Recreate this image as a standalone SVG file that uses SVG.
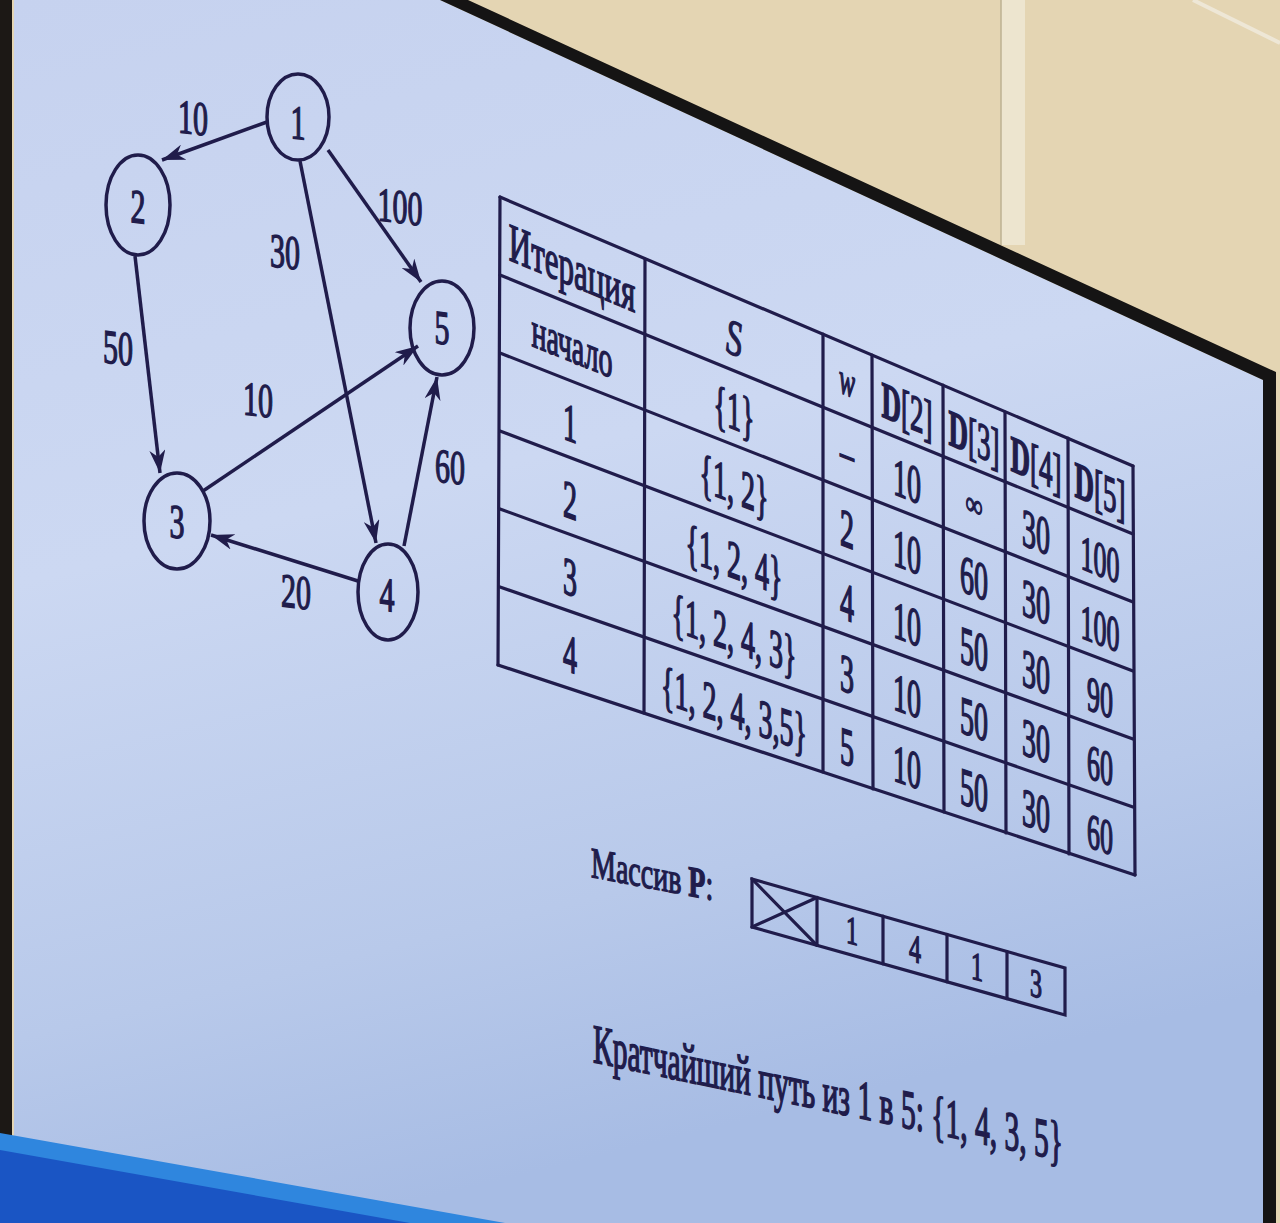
<svg xmlns="http://www.w3.org/2000/svg" width="1280" height="1223" viewBox="0 0 1280 1223">
<defs>
<linearGradient id="scr" x1="0" y1="0" x2="0.25" y2="1">
<stop offset="0" stop-color="#c6d2ef"/>
<stop offset="0.45" stop-color="#ccd8f2"/>
<stop offset="0.8" stop-color="#b8c9ea"/>
<stop offset="1" stop-color="#a7bce4"/>
</linearGradient>
<marker id="arr" markerUnits="userSpaceOnUse" markerWidth="26" markerHeight="16" refX="23" refY="8" orient="auto">
<path d="M0,0 L23,8 L0,16 L7,8 z" fill="#201c4b"/>
</marker>
<style>
.t{font-family:"Liberation Serif","Times New Roman",serif;fill:#201c4b;stroke:#201c4b;stroke-width:0.9;text-anchor:middle}
.g{font-size:30px}
.tb{font-size:28px}
.ln{stroke:#201c4b;stroke-width:3.2;fill:none;stroke-linecap:round}
.nd{fill:none;stroke:#201c4b;stroke-width:3.5}
.ed{stroke:#201c4b;stroke-width:3.5;fill:none;marker-end:url(#arr)}
</style>
</defs>

<!-- scene: wall, screen, bezel -->
<rect x="0" y="0" width="1280" height="1223" fill="#e4d5b3"/>
<rect x="1001" y="0" width="24" height="245" fill="#ede5cf"/>
<line x1="1001" y1="0" x2="1001" y2="245" stroke="#bdb092" stroke-width="1.5"/>
<line x1="1193" y1="0" x2="1280" y2="43" stroke="#eee7d6" stroke-width="4"/>
<polygon points="14,0 440,0 1263,380 1263,1223 14,1223" fill="url(#scr)"/>
<polygon points="440,0 468,0 1276,372 1276,1223 1263,1223 1263,380" fill="#151414"/>
<rect x="0" y="0" width="12" height="1223" fill="#1c1815"/>
<polygon points="0,1133 505,1223 0,1223" fill="#2f86de"/>
<polygon points="0,1150 410,1223 0,1223" fill="#1a55c4"/>

<!-- graph connectors -->
<g id="edges">
<line class="ed" x1="267" y1="122" x2="162" y2="160"/>
<line class="ed" x1="328" y1="150" x2="421" y2="282"/>
<line class="ed" x1="300" y1="161" x2="376" y2="543"/>
<line class="ed" x1="135" y1="256" x2="160" y2="473"/>
<line class="ed" x1="203" y1="491" x2="418" y2="346"/>
<line class="ed" x1="358" y1="581" x2="211" y2="535"/>
<line class="ed" x1="404" y1="546" x2="437" y2="377"/>
<g id="edge-labels">
<text class="t g" transform="matrix(1 0.12 0 1.6 193 134)">10</text>
<text class="t g" transform="matrix(1 0.12 0 1.6 400 223)">100</text>
<text class="t g" transform="matrix(1 0.12 0 1.6 285 268)">30</text>
<text class="t g" transform="matrix(1 0.12 0 1.6 118 364)">50</text>
<text class="t g" transform="matrix(1 0.12 0 1.6 258 416)">10</text>
<text class="t g" transform="matrix(1 0.12 0 1.6 296 608)">20</text>
<text class="t g" transform="matrix(1 0.12 0 1.6 450 483)">60</text>
</g>
</g>

<!-- graph nodes -->
<g id="node1"><ellipse class="nd" cx="298" cy="117" rx="31" ry="43"/><text class="t g" transform="matrix(1 0.12 0 1.6 298 139)">1</text></g>
<g id="node2"><ellipse class="nd" cx="138" cy="205" rx="32" ry="50"/><text class="t g" transform="matrix(1 0.12 0 1.6 138 223)">2</text></g>
<g id="node5"><ellipse class="nd" cx="442" cy="328" rx="32" ry="47"/><text class="t g" transform="matrix(1 0.12 0 1.6 442 344)">5</text></g>
<g id="node3"><ellipse class="nd" cx="177" cy="521" rx="33" ry="48"/><text class="t g" transform="matrix(1 0.12 0 1.6 177 538)">3</text></g>
<g id="node4"><ellipse class="nd" cx="388" cy="592" rx="30" ry="48"/><text class="t g" transform="matrix(1 0.12 0 1.6 387 611)">4</text></g>

<!-- table -->
<g id="table">
<g id="table-grid">
<line class="ln" x1="500" y1="197" x2="1133" y2="466"/>
<line class="ln" x1="500" y1="275" x2="1133" y2="534"/>
<line class="ln" x1="500" y1="353" x2="1133" y2="602"/>
<line class="ln" x1="500" y1="431" x2="1133" y2="671"/>
<line class="ln" x1="500" y1="509" x2="1133" y2="739"/>
<line class="ln" x1="500" y1="587" x2="1133" y2="807"/>
<line class="ln" x1="498" y1="665" x2="1135" y2="875"/>
<line class="ln" x1="500" y1="197" x2="498" y2="665"/>
<line class="ln" x1="645" y1="259" x2="644" y2="713"/>
<line class="ln" x1="823" y1="334" x2="823" y2="772"/>
<line class="ln" x1="872" y1="355" x2="873" y2="789"/>
<line class="ln" x1="943" y1="385" x2="944" y2="812"/>
<line class="ln" x1="1005" y1="412" x2="1006" y2="833"/>
<line class="ln" x1="1068" y1="438" x2="1069" y2="854"/>
<line class="ln" x1="1133" y1="466" x2="1135" y2="875"/>
</g>
<g id="col-iter">
<text class="t" font-size="31" transform="matrix(1 0.417 0 1.75 572 286)">Итерация</text>
<text class="t tb" transform="matrix(1 0.402 0 1.8 572 362)">начало</text>
<text class="t tb" transform="matrix(1 0.386 0 1.9 570 441)">1</text>
<text class="t tb" transform="matrix(1 0.371 0 1.9 570 518)">2</text>
<text class="t tb" transform="matrix(1 0.355 0 1.9 570 595)">3</text>
<text class="t tb" transform="matrix(1 0.340 0 1.9 570 672)">4</text>
</g>
<g id="col-s">
<text class="t" font-size="32" font-style="italic" transform="matrix(1 0.417 0 1.6 734 355)">S</text>
<text class="t tb" transform="matrix(1 0.402 0 1.9 734 429)">{1}</text>
<text class="t tb" transform="matrix(1 0.386 0 1.9 734 503)">{1, 2}</text>
<text class="t tb" transform="matrix(1 0.371 0 1.9 734 578)">{1, 2, 4}</text>
<text class="t tb" transform="matrix(1 0.355 0 1.9 734 652)">{1, 2, 4, 3}</text>
<text class="t tb" transform="matrix(1 0.340 0 1.9 734 727)">{1, 2, 4, 3,5}</text>
</g>
<g id="col-w">
<text class="t" font-size="24" font-style="italic" transform="matrix(1 0.417 0 1.8 847 395)">w</text>
<text class="t tb" transform="matrix(1 0.402 0 1.6 847 468)">–</text>
<text class="t tb" transform="matrix(1 0.386 0 1.9 847 547)">2</text>
<text class="t tb" transform="matrix(1 0.371 0 1.9 847 620)">4</text>
<text class="t tb" transform="matrix(1 0.355 0 1.9 847 692)">3</text>
<text class="t tb" transform="matrix(1 0.340 0 1.9 847 765)">5</text>
</g>
<g id="col-d2">
<text class="t" font-size="27" transform="matrix(1 0.417 0 1.9 907 427)"><tspan font-weight="bold">D</tspan>[2]</text>
<text class="t tb" transform="matrix(1 0.402 0 1.9 907 499)">10</text>
<text class="t tb" transform="matrix(1 0.386 0 1.9 907 570)">10</text>
<text class="t tb" transform="matrix(1 0.371 0 1.9 907 642)">10</text>
<text class="t tb" transform="matrix(1 0.355 0 1.9 907 714)">10</text>
<text class="t tb" transform="matrix(1 0.340 0 1.9 907 785)">10</text>
</g>
<g id="col-d3">
<text class="t" font-size="27" transform="matrix(1 0.417 0 1.9 974 455)"><tspan font-weight="bold">D</tspan>[3]</text>
<text class="t" font-size="24" transform="matrix(1 0.402 0 1.4 974 516)">∞</text>
<text class="t tb" transform="matrix(1 0.386 0 1.9 974 596)">60</text>
<text class="t tb" transform="matrix(1 0.371 0 1.9 974 667)">50</text>
<text class="t tb" transform="matrix(1 0.355 0 1.9 974 737)">50</text>
<text class="t tb" transform="matrix(1 0.340 0 1.9 974 808)">50</text>
</g>
<g id="col-d4">
<text class="t" font-size="27" transform="matrix(1 0.417 0 1.9 1036 481)"><tspan font-weight="bold">D</tspan>[4]</text>
<text class="t tb" transform="matrix(1 0.402 0 1.9 1036 550)">30</text>
<text class="t tb" transform="matrix(1 0.386 0 1.9 1036 620)">30</text>
<text class="t tb" transform="matrix(1 0.371 0 1.9 1036 690)">30</text>
<text class="t tb" transform="matrix(1 0.355 0 1.9 1036 759)">30</text>
<text class="t tb" transform="matrix(1 0.340 0 1.9 1036 829)">30</text>
</g>
<g id="col-d5">
<text class="t" font-size="27" transform="matrix(1 0.417 0 1.9 1100 507)"><tspan font-weight="bold">D</tspan>[5]</text>
<text class="t" font-size="26" transform="matrix(1 0.402 0 1.9 1100 576)">100</text>
<text class="t" font-size="26" transform="matrix(1 0.386 0 1.9 1100 645)">100</text>
<text class="t" font-size="26" transform="matrix(1 0.371 0 1.9 1100 714)">90</text>
<text class="t" font-size="26" transform="matrix(1 0.355 0 1.9 1100 782)">60</text>
<text class="t" font-size="26" transform="matrix(1 0.340 0 1.9 1100 851)">60</text>
</g>
</g>

<!-- array P -->
<g id="array-p">
<text class="t" font-size="28" style="text-anchor:start" transform="matrix(1 0.19 0 1.55 591 877)">Массив <tspan font-weight="bold">P</tspan>:</text>
<polygon class="ln" points="752,879 1065,968 1065,1015 752,927"/>
<line class="ln" x1="817" y1="897.5" x2="817" y2="945.3"/>
<line class="ln" x1="883" y1="916.2" x2="883" y2="963.8"/>
<line class="ln" x1="947" y1="934.4" x2="947" y2="981.8"/>
<line class="ln" x1="1007" y1="951.5" x2="1007" y2="998.7"/>
<line class="ln" x1="752" y1="879" x2="817" y2="945.3"/>
<line class="ln" x1="752" y1="927" x2="817" y2="897.5"/>
<text class="t" font-size="24" transform="matrix(1 0.28 0 1.65 852 944)">1</text>
<text class="t" font-size="24" transform="matrix(1 0.28 0 1.65 915 962)">4</text>
<text class="t" font-size="24" transform="matrix(1 0.28 0 1.65 977 980)">1</text>
<text class="t" font-size="24" transform="matrix(1 0.28 0 1.65 1036 997)">3</text>
</g>

<!-- result -->
<g id="result">
<text class="t" font-size="29" style="text-anchor:start" textLength="470" lengthAdjust="spacingAndGlyphs" transform="matrix(1 0.21 0 1.9 593 1062)">Кратчайший путь из 1 в 5: {1, 4, 3, 5}</text>
</g>
</svg>
